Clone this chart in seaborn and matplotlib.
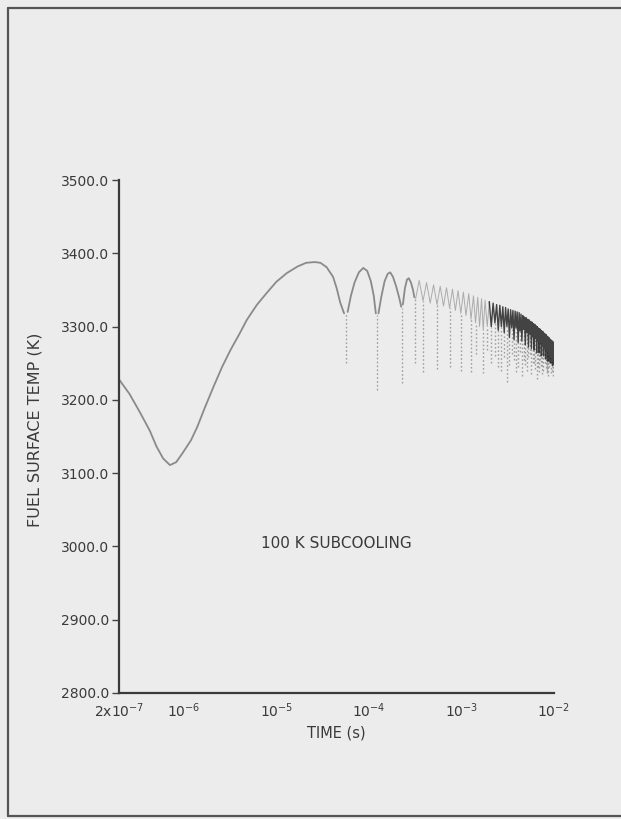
import numpy as np
import pandas as pd
import matplotlib
matplotlib.use("Agg")
import matplotlib.pyplot as plt
import seaborn as sns
from matplotlib.lines import Line2D

# ---------------- data ----------------
# smooth initial transient incl. first arc
smooth_time = [2.0e-7, 2.6e-7, 3.4e-7, 4.3e-7, 5.1e-7, 6.0e-7, 7.1e-7, 8.3e-7, 9.8e-7,
               1.2e-6, 1.4e-6, 1.7e-6, 2.1e-6, 2.6e-6, 3.2e-6, 4.0e-6, 4.8e-6, 6.2e-6,
               7.9e-6, 1.0e-5, 1.3e-5, 1.7e-5, 2.1e-5, 2.6e-5, 3.0e-5, 3.5e-5, 4.1e-5,
               4.5e-5, 4.9e-5, 5.4e-5]
smooth_temp = [3228, 3208, 3182, 3158, 3136, 3120, 3111, 3115, 3128,
               3145, 3163, 3190, 3218, 3245, 3268, 3290, 3309, 3330,
               3346, 3361, 3373, 3382, 3387, 3388, 3387, 3381, 3368,
               3352, 3333, 3318]

# early arcs (cycles 2..4)
arc2_time = [5.9e-5, 6.4e-5, 7.0e-5, 7.8e-5, 8.7e-5, 9.6e-5, 1.05e-4, 1.13e-4, 1.19e-4]
arc2_temp = [3320, 3342, 3360, 3374, 3380, 3376, 3362, 3342, 3318]
arc3_time = [1.27e-4, 1.36e-4, 1.48e-4, 1.60e-4, 1.70e-4, 1.82e-4, 1.97e-4, 2.12e-4, 2.24e-4]
arc3_temp = [3318, 3340, 3362, 3372, 3374, 3368, 3355, 3340, 3327]
arc4_time = [2.33e-4, 2.45e-4, 2.58e-4, 2.70e-4, 2.85e-4, 3.00e-4, 3.10e-4]
arc4_temp = [3330, 3352, 3364, 3366, 3360, 3350, 3340]

# rapid oscillation, first part (sparse, faint): alternating peaks / shallow troughs
osc1_time = [3.2e-4, 3.5e-4, 3.85e-4, 4.2e-4, 4.6e-4, 5.0e-4, 5.45e-4, 5.9e-4, 6.4e-4, 6.9e-4,
             7.45e-4, 8.0e-4, 8.6e-4, 9.2e-4, 9.85e-4, 1.05e-3, 1.12e-3, 1.2e-3, 1.27e-3, 1.35e-3,
             1.42e-3, 1.5e-3, 1.57e-3, 1.65e-3, 1.72e-3, 1.8e-3, 1.9e-3, 2.0e-3]
osc1_temp = [3338, 3363, 3335, 3360, 3332, 3357, 3330, 3355, 3328, 3353,
             3325, 3351, 3322, 3349, 3318, 3347, 3315, 3345, 3310, 3342,
             3305, 3340, 3300, 3338, 3295, 3336, 3300, 3334]

# rapid oscillation, dense part (dark band under the envelope)
osc2_time = [2.0e-3, 2.1e-3, 2.2e-3,
             2.3e-3, 2.4e-3, 2.5e-3, 2.6e-3, 2.7e-3, 2.8e-3, 2.9e-3, 3.0e-3, 3.1e-3, 3.2e-3,
             3.3e-3, 3.4e-3, 3.5e-3, 3.6e-3, 3.7e-3, 3.8e-3, 3.9e-3, 4.0e-3, 4.1e-3, 4.2e-3,
             4.3e-3, 4.4e-3, 4.5e-3, 4.6e-3, 4.7e-3, 4.8e-3, 4.9e-3, 5.0e-3, 5.1e-3, 5.2e-3,
             5.3e-3, 5.4e-3, 5.5e-3, 5.6e-3, 5.7e-3, 5.8e-3, 5.9e-3, 6.0e-3, 6.1e-3, 6.2e-3,
             6.3e-3, 6.4e-3, 6.5e-3, 6.6e-3, 6.7e-3, 6.8e-3, 6.9e-3, 7.0e-3, 7.1e-3, 7.2e-3,
             7.3e-3, 7.4e-3, 7.5e-3, 7.6e-3, 7.7e-3, 7.8e-3, 7.9e-3, 8.0e-3, 8.1e-3, 8.2e-3,
             8.3e-3, 8.4e-3, 8.5e-3, 8.6e-3, 8.7e-3, 8.8e-3, 8.9e-3, 9.0e-3, 9.1e-3, 9.2e-3,
             9.3e-3, 9.4e-3, 9.5e-3, 9.6e-3, 9.7e-3, 9.8e-3, 9.9e-3, 1.0e-2]
osc2_temp = [3334, 3300, 3332,
             3305, 3330, 3295, 3329, 3300, 3327, 3292, 3326, 3300, 3324,
             3285, 3323, 3298, 3322, 3282, 3321, 3298, 3320, 3278, 3319,
             3294, 3317, 3280, 3315, 3296, 3313, 3275, 3312, 3292, 3310,
             3272, 3309, 3290, 3307, 3270, 3306, 3286, 3304, 3268, 3303,
             3284, 3301, 3264, 3300, 3280, 3298, 3264, 3297, 3277, 3295,
             3260, 3294, 3274, 3293, 3260, 3291, 3270, 3290, 3256, 3289,
             3266, 3287, 3253, 3286, 3263, 3285, 3252, 3283, 3258, 3282,
             3250, 3281, 3256, 3280, 3247, 3279, 3252, 3278]

# deep quench spikes (faint dotted strokes)
spike_time = [5.6e-5, 1.22e-4, 2.28e-4, 3.12e-4, 3.85e-4, 5.45e-4, 7.45e-4, 9.85e-4,
              1.27e-3, 1.42e-3, 1.72e-3, 1.9e-3, 2.1e-3, 2.3e-3, 2.5e-3, 2.7e-3, 2.9e-3,
              3.1e-3, 3.3e-3, 3.5e-3, 3.7e-3, 3.9e-3, 4.1e-3, 4.3e-3, 4.5e-3, 4.7e-3,
              4.9e-3, 5.1e-3, 5.3e-3, 5.5e-3, 5.7e-3, 5.9e-3, 6.1e-3, 6.3e-3, 6.5e-3,
              6.7e-3, 6.9e-3, 7.1e-3, 7.3e-3, 7.5e-3, 7.7e-3, 7.9e-3, 8.1e-3, 8.3e-3,
              8.5e-3, 8.7e-3, 8.9e-3, 9.1e-3, 9.3e-3, 9.5e-3, 9.7e-3, 9.9e-3]
spike_top = [3318, 3316, 3326, 3340, 3335, 3330, 3325, 3318,
             3310, 3305, 3295, 3300, 3300, 3305, 3295, 3300, 3292,
             3300, 3285, 3298, 3282, 3298, 3278, 3294, 3280, 3296,
             3275, 3292, 3272, 3290, 3270, 3286, 3268, 3284, 3264,
             3280, 3264, 3277, 3260, 3274, 3260, 3270, 3256, 3266,
             3253, 3263, 3252, 3258, 3250, 3256, 3247, 3252]
spike_bottom = [3250, 3213, 3223, 3250, 3238, 3242, 3245, 3240,
                3238, 3262, 3237, 3268, 3250, 3260, 3245, 3240, 3258,
                3225, 3248, 3262, 3255, 3238, 3245, 3265, 3232, 3255,
                3248, 3240, 3258, 3262, 3235, 3250, 3250, 3242, 3228,
                3245, 3238, 3255, 3246, 3235, 3240, 3250, 3244, 3236,
                3240, 3232, 3245, 3250, 3236, 3240, 3232, 3238]

x_ticks = [2e-7, 1e-6, 1e-5, 1e-4, 1e-3, 1e-2]
x_tick_labels = ["2x10$^{-7}$", "10$^{-6}$", "10$^{-5}$", "10$^{-4}$", "10$^{-3}$", "10$^{-2}$"]
y_ticks = [2800, 2900, 3000, 3100, 3200, 3300, 3400, 3500]
y_tick_labels = ["2800.0", "2900.0", "3000.0", "3100.0", "3200.0", "3300.0", "3400.0", "3500.0"]

# ---------------- tables ----------------
curve_df = pd.concat([
    pd.DataFrame({"time": smooth_time, "temp": smooth_temp, "seg": 0}),
    pd.DataFrame({"time": arc2_time, "temp": arc2_temp, "seg": 1}),
    pd.DataFrame({"time": arc3_time, "temp": arc3_temp, "seg": 2}),
    pd.DataFrame({"time": arc4_time, "temp": arc4_temp, "seg": 3}),
], ignore_index=True)
osc1_df = pd.DataFrame({"time": osc1_time, "temp": osc1_temp})
osc2_df = pd.DataFrame({"time": osc2_time, "temp": osc2_temp})

# ---------------- figure ----------------
sns.set_theme(style="white")
bg = "#ececec"
ink = "#3a3a3a"
plt.rcParams["font.family"] = ["DejaVu Sans"]

fig = plt.figure(figsize=(6.21, 8.19), dpi=100, facecolor=bg)
ax = fig.add_axes([119 / 621, 1 - 693 / 819, (554 - 119) / 621, (693 - 180) / 819])
ax.set_facecolor(bg)

sns.lineplot(data=curve_df, x="time", y="temp", units="seg", estimator=None,
             color="#8a8a8a", lw=1.3, ax=ax, sort=False)
ax.vlines(spike_time, spike_bottom, spike_top, colors="#555555", lw=1.0,
          linestyles=(0, (1.2, 1.6)), alpha=0.5)
sns.lineplot(data=osc1_df, x="time", y="temp", estimator=None, sort=False,
             color="#333333", lw=0.7, alpha=0.35, ax=ax)
sns.lineplot(data=osc2_df, x="time", y="temp", estimator=None, sort=False,
             color="#0a0a0a", lw=1.0, alpha=0.75, ax=ax)

ax.set_xscale("log")
ax.set_xlim(2e-7, 1e-2)
ax.set_ylim(2800, 3500)
ax.set_xticks(x_ticks)
ax.set_xticklabels(x_tick_labels)
ax.xaxis.set_minor_locator(matplotlib.ticker.NullLocator())
ax.set_yticks(y_ticks)
ax.set_yticklabels(y_tick_labels)

for s in ["top", "right"]:
    ax.spines[s].set_visible(False)
for s in ["left", "bottom"]:
    ax.spines[s].set_color("#3a3a3a")
    ax.spines[s].set_linewidth(1.6)

ax.tick_params(axis="y", direction="out", length=5, width=1.0, color="#444444",
               labelsize=10, labelcolor=ink, pad=2, left=True)
ax.tick_params(axis="x", length=0, labelsize=10, labelcolor=ink, pad=6)

ax.set_xlabel("TIME (s)", fontsize=10.5, color=ink, labelpad=4)
ax.set_ylabel("FUEL SURFACE TEMP (K)", fontsize=11.5, color=ink)
ax.yaxis.set_label_coords(-0.175, 0.513)
ax.text(0.499, 0.292, "100 K SUBCOOLING", transform=ax.transAxes, ha="center",
        va="center", fontsize=11, color=ink)

# scanned page frame
frame_kw = dict(color="#555555", lw=1.6, transform=fig.transFigure)
fig.add_artist(Line2D([8 / 621, 8 / 621], [1 - 8 / 819, 1 - 816 / 819], **frame_kw))
fig.add_artist(Line2D([8 / 621, 1.0], [1 - 8 / 819, 1 - 8 / 819], **frame_kw))
fig.add_artist(Line2D([8 / 621, 1.0], [1 - 816 / 819, 1 - 816 / 819], **frame_kw))

fig.savefig("out.png", dpi=100, facecolor=bg)
